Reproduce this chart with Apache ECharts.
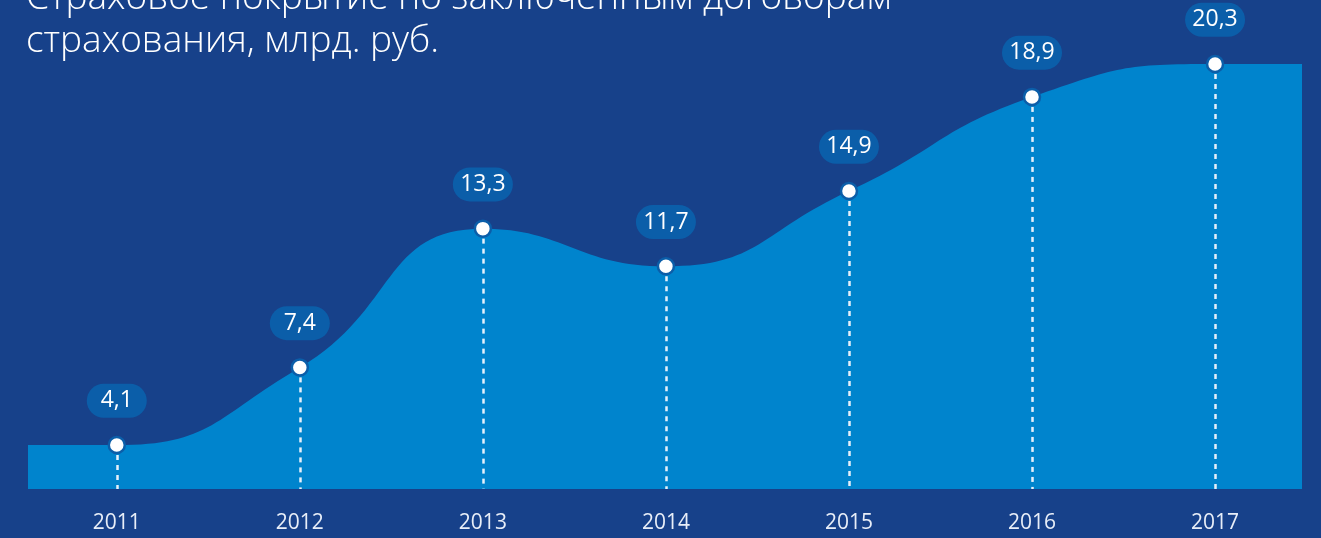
<!DOCTYPE html>
<html>
<head>
<meta charset="utf-8">
<script src="https://cdn.jsdelivr.net/npm/echarts@6/dist/echarts.min.js"></script>
<style>
html, body { margin: 0; padding: 0; background: #17418a; }
#myChart { width: 1321px; height: 538px; }
</style>
</head>
<body>
<div id="myChart"></div>
<script>
var myChart = echarts.init(document.getElementById('myChart'));

// годы и страховое покрытие, млрд. руб.
var years = ['2011', '2012', '2013', '2014', '2015', '2016', '2017'];
var values = [4.1, 7.4, 13.3, 11.7, 14.9, 18.9, 20.3];
var titleText = 'Страховое покрытие по заключенным договорам\nстрахования, млрд. руб.';

var xMin = -0.485, xMax = 6.475;
var yMin = 2.23, yMax = 22;

// точки для линии: края продлены до границ сетки тем же значением
var points = values.map(function (v, i) { return [i, v]; });
var areaData = [[xMin, values[0]]].concat(points).concat([[xMax, values[values.length - 1]]]);

var dropLines = points.map(function (p) {
    return [{coord: [p[0], p[1]]}, {coord: [p[0], yMin]}];
});

myChart.setOption({
    backgroundColor: '#17418a',
    animation: false,
    title: {
        text: titleText,
        left: 21,
        top: -28,
        textStyle: {color: '#ffffff', fontFamily: 'Open Sans', fontWeight: 300, fontSize: 37, lineHeight: 43}
    },
    grid: {left: 28, right: 19, top: 24, bottom: 49},
    xAxis: {
        type: 'value', min: xMin, max: xMax, minInterval: 1, maxInterval: 1,
        axisLine: {show: false}, axisTick: {show: false}, splitLine: {show: false},
        axisLabel: {
            color: '#e8eef8', fontFamily: 'Open Sans', fontSize: 21, margin: 24,
            showMinLabel: false, showMaxLabel: false,
            formatter: function (v) { return Number.isInteger(v) ? years[v] : ''; }
        }
    },
    yAxis: {type: 'value', min: yMin, max: yMax, show: false, splitLine: {show: false}},
    series: [
        {
            type: 'line', data: areaData, smooth: 0.5, showSymbol: false, z: 1,
            lineStyle: {width: 0},
            areaStyle: {color: '#0084cd', opacity: 1, origin: 'start'}
        },
        {
            type: 'scatter', data: points, symbol: 'circle', symbolSize: 16, z: 3,
            itemStyle: {color: '#ffffff', borderColor: '#0b5ea9', borderWidth: 2.5, opacity: 1},
            label: {
                show: true, position: 'top', distance: 18,
                formatter: function (p) { return String(p.value[1]).replace('.', ','); },
                color: '#ffffff', fontFamily: 'Open Sans', fontSize: 23, lineHeight: 22,
                backgroundColor: '#0b5ea9', borderRadius: 17,
                width: 60, align: 'center', padding: [6, 0, 6, 0]
            },
            markLine: {
                silent: true, symbol: ['none', 'none'], z: 2,
                label: {show: false},
                lineStyle: {color: '#e6f0fa', type: [5, 5], width: 2.5},
                data: dropLines
            }
        }
    ]
});
</script>
</body>
</html>
